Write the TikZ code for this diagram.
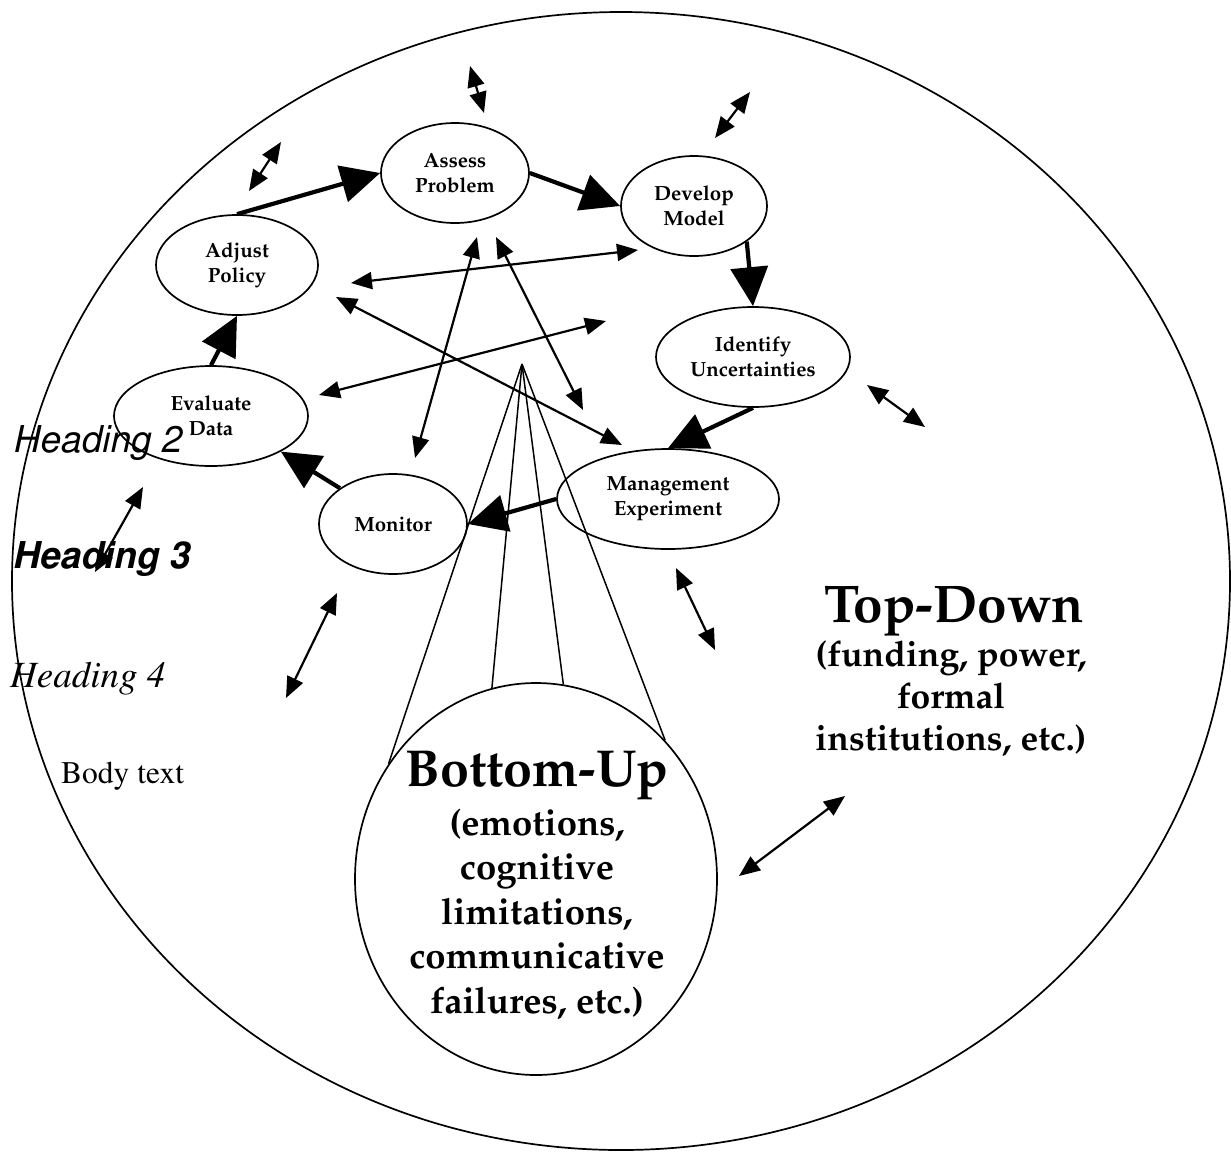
\documentclass[tikz,border=0pt]{standalone}
\usepackage[T1]{fontenc}
\usetikzlibrary{shapes.geometric,arrows.meta}
\newcommand\palbold{\fontfamily{ppl}\fontseries{b}\fontshape{n}\selectfont}
\begin{document}
\begin{tikzpicture}[x=1pt,y=-1pt,
  stage/.style={ellipse, draw, line width=1.7pt, inner sep=0pt, align=center,
    minimum height=100pt, font=\palbold\fontsize{20.5}{25}\selectfont},
  rim/.style={ellipse, draw, line width=1.7pt, inner sep=0pt},
  flow/.style={line width=4.2pt, -{Triangle[length=39pt,width=37pt]}},
  link/.style={line width=2.2pt, {Triangle[length=21pt,width=17pt]}-{Triangle[length=21pt,width=17pt]}},
  cone/.style={line width=1.5pt},
  bigtitle/.style={anchor=base, inner sep=0pt, font=\palbold\fontsize{52}{60}\selectfont},
  bullet/.style={anchor=base, inner sep=0pt, font=\palbold\fontsize{36.5}{44}\selectfont},
  stylename/.style={anchor=base west, inner sep=0pt},
]
\useasboundingbox (0,0) rectangle (1231,1152);

% outer world
\node[rim, minimum width=1218pt, minimum height=1138pt] (world) at (621,581) {};

% stages
\node[stage, minimum width=148pt] (ap) at (455,173) {Assess\\Problem};
\node[stage, minimum width=146pt] (dm) at (694,206) {Develop\\Model};
\node[stage, minimum width=162pt] (au) at (237,265) {Adjust\\Policy};
\node[stage, minimum width=194pt] (iu) at (753,357) {Identify\\Uncertainties};
\node[stage, minimum width=222pt] (me) at (668,499) {Management\\Experiment};
\node[stage, minimum width=194pt] (ed) at (211,416) {Evaluate\\Data};
\node[stage, minimum width=148pt] (mo) at (393,524) {Monitor};

% bottom-up bubble
\node[rim, minimum width=362pt, minimum height=392pt] (bu) at (536,879) {};
\node[bigtitle] (bu1) at (537,786) {Bottom-Up};
\node[bullet] (bu2) at (537,835) {(emotions,};
\node[bullet] (bu3) at (537,879) {cognitive};
\node[bullet] (bu4) at (537,924) {limitations,};
\node[bullet] (bu5) at (537,968) {communicative};
\node[bullet] (bu6) at (537,1013) {failures, etc.)};

% top-down
\node[bigtitle, font=\palbold\fontsize{53}{60}\selectfont] (td1) at (954,622) {Top-Down};
\node[bullet, font=\palbold\fontsize{35.5}{42}\selectfont] (td2) at (951,666) {(funding, power,};
\node[bullet, font=\palbold\fontsize{35.5}{42}\selectfont] (td3) at (951,708) {formal};
\node[bullet, font=\palbold\fontsize{35.5}{42}\selectfont] (td4) at (951,750) {institutions, etc.)};

% cycle
\draw[flow] (au.north) -- (ap.west);
\draw[flow] (ap.east) -- (dm.west);
\draw[flow] (dm.-34) -- (iu.north);
\draw[flow] (iu.south) -- (me.north);
\draw[flow] (me.west) -- (mo.east);
\draw[flow] (mo.146) -- (ed.-27);
\draw[flow] (ed.north) -- (au.south);

% cone
\coordinate (apex) at (522,364);
\draw[cone] (apex) -- (bu.142);
\draw[cone] (apex) -- (bu.103);
\draw[cone] (apex) -- (bu.82);
\draw[cone] (apex) -- (bu.47);

% double arrows
\coordinate (a1) at (470,66);   \coordinate (b1) at (484,113);
\coordinate (a2) at (750,92);   \coordinate (b2) at (715,138);
\coordinate (a3) at (281,142);  \coordinate (b3) at (249,191);
\coordinate (a4) at (867,385);  \coordinate (b4) at (925,427);
\coordinate (a5) at (676,568);  \coordinate (b5) at (715,650);
\coordinate (a6) at (337,593);  \coordinate (b6) at (286,698);
\coordinate (a7) at (143,487);  \coordinate (b7) at (95,572);
\coordinate (a8) at (845,796);  \coordinate (b8) at (739,876);
\coordinate (a9) at (638,250);  \coordinate (b9) at (351,283);
\coordinate (a10) at (336,297); \coordinate (b10) at (622,445);
\coordinate (a11) at (319,395); \coordinate (b11) at (606,321);
\coordinate (a12) at (477,237); \coordinate (b12) at (415,458);
\coordinate (a13) at (496,237); \coordinate (b13) at (583,410);
\foreach \i in {1,...,13} \draw[link] (a\i) -- (b\i);

% stray style labels
\node[stylename, font=\fontfamily{phv}\fontseries{m}\fontshape{sl}\fontsize{37}{40}\selectfont] (h2) at (12,452) {Heading 2};
\node[stylename, font=\fontfamily{phv}\fontseries{b}\fontshape{sl}\fontsize{37}{40}\selectfont] (h3) at (12,568) {Heading 3};
\node[stylename, font=\fontfamily{ptm}\fontseries{m}\fontshape{it}\fontsize{37}{40}\selectfont] (h4) at (10,687) {Heading 4};
\node[stylename, font=\fontfamily{ptm}\fontseries{m}\fontshape{n}\fontsize{31.5}{36}\selectfont] (bt) at (61,783) {Body text};
\end{tikzpicture}
\end{document}
